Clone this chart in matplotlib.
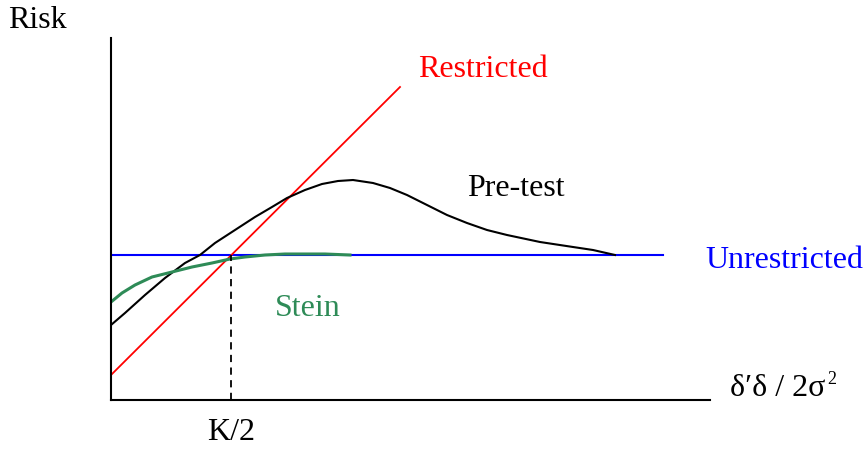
import matplotlib
matplotlib.use("Agg")
from matplotlib import pyplot as plt

# 軸の単位はおおよそのピクセル (原点 = 軸の交点)
unrestricted_x = [0, 552]
unrestricted_y = [145, 145]

restricted_x = [0, 289]
restricted_y = [25, 313]

pretest_x = [0, 14, 34, 54, 74, 89, 104, 124, 144, 161, 176, 194, 211, 227, 242,
             262, 279, 296, 316, 336, 356, 376, 396, 429, 462, 482, 504]
pretest_y = [75, 87, 105, 122, 137, 145, 157, 170, 183, 193, 202, 210, 216, 219, 220,
             217, 212, 205, 195, 185, 177, 170, 165, 158, 153, 150, 145]

stein_x = [0, 11, 24, 41, 61, 81, 101, 119, 134, 154, 174, 194, 214, 239]
stein_y = [98, 107, 115, 123, 128, 133, 137, 141, 143, 145, 146, 146, 146, 145]

k_half = 120
k_label = 'K/2'

plt.rcParams['font.family'] = ['Liberation Serif', 'DejaVu Serif']
fs = 23

fig = plt.figure(figsize=(8.66, 4.51), dpi=100)
ax = fig.add_axes([111 / 866, 51 / 451, 599 / 866, 362 / 451])
ax.set_xlim(0, 599)
ax.set_ylim(0, 362)

ax.plot(unrestricted_x, unrestricted_y, color='#0000ff', lw=1.5)
ax.plot(restricted_x, restricted_y, color='#ff0000', lw=1.3)
ax.plot(pretest_x, pretest_y, color='black', lw=1.5, solid_joinstyle='round')
ax.plot(stein_x, stein_y, color='#2e8b57', lw=2.2, solid_joinstyle='round')
ax.plot([k_half, k_half], [0, 145], color='black', lw=1.3, ls=(0, (4, 3)))

#ラベル
ax.text(k_half, -33, k_label, fontsize=fs, ha='center', va='center', clip_on=False)
ax.text(307, 331, 'Restricted', color='#ff0000', fontsize=fs, ha='left', va='center', clip_on=False)
ax.text(356, 212, 'Pre-test', color='black', fontsize=fs, ha='left', va='center', clip_on=False)
ax.text(594, 140, 'Unrestricted', color='#0000ff', fontsize=fs, ha='left', va='center', clip_on=False)
ax.text(164, 92, 'Stein', color='#2e8b57', fontsize=fs, ha='left', va='center', clip_on=False)
xl = ax.text(619, 12, 'δ′δ / 2σ', color='black', fontsize=fs, ha='left', va='center', clip_on=False)
fig.text(8 / 866, 1 - 20 / 451, 'Risk', fontsize=fs, ha='left', va='center')

#上付きの2
ax.annotate('2', xy=(1, 1), xycoords=xl, xytext=(1, 2), textcoords='offset points',
            fontsize=13, ha='left', va='top', annotation_clip=False)

for s in ['top', 'right']:
    ax.spines[s].set_visible(False)
for s in ['left', 'bottom']:
    ax.spines[s].set_linewidth(1.5)
ax.set_xticks([])
ax.set_yticks([])

fig.savefig('out.png', dpi=100)
